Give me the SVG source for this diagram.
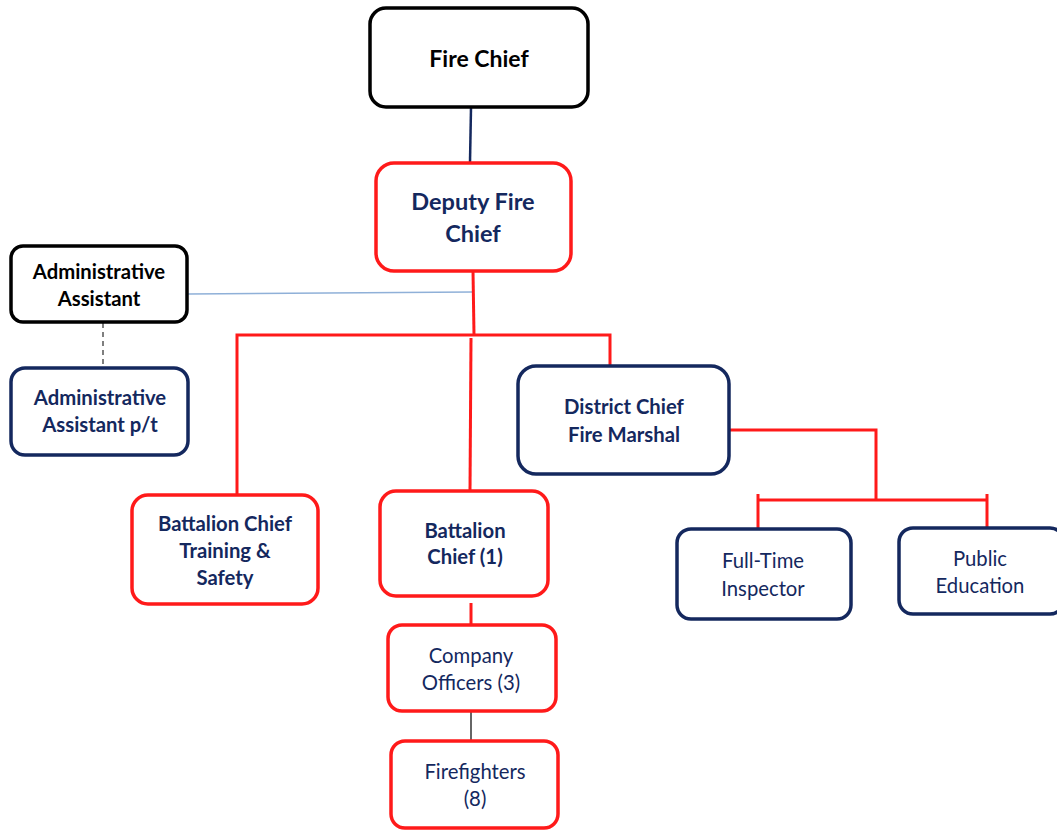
<svg xmlns="http://www.w3.org/2000/svg" width="1057" height="831" viewBox="0 0 1057 831">
<style>
  .box{fill:#fff;stroke-width:3.5}
  .red{stroke:#ff1a1a}
  .navy{stroke:#14285e}
  .blk{stroke:#000}
  text{font-family:Lato,"Open Sans","Liberation Sans",sans-serif;text-anchor:middle;font-size:20.3px}
  .b{font-weight:bold;font-size:20.3px}
  .tn{fill:#14285e}
  .tk{fill:#000}
  .rl{fill:none;stroke:#ff1a1a;stroke-width:3}
</style>
<rect width="1057" height="831" fill="#fff"/>
<g id="connectors">
  <line x1="471" y1="108" x2="470" y2="162" stroke="#14285e" stroke-width="2.5"/>
  <line x1="188" y1="294" x2="473" y2="292" stroke="#8fb0d8" stroke-width="1.5"/>
  <line x1="103" y1="323" x2="103" y2="367" stroke="#555" stroke-width="1.5" stroke-dasharray="5,4"/>
  <polyline class="rl" points="473,271 474,335"/>
  <polyline class="rl" points="237,495 237,335 610,335 610,366"/>
  <line class="rl" x1="471" y1="338" x2="470" y2="491"/>
  <polyline class="rl" points="729,430 876,430 876,500"/>
  <line class="rl" x1="758" y1="500" x2="987" y2="500"/>
  <line class="rl" x1="758" y1="494" x2="758" y2="529"/>
  <line class="rl" x1="987" y1="494" x2="987" y2="528"/>
  <line class="rl" x1="471" y1="603" x2="471" y2="625"/>
  <line x1="471" y1="712" x2="471" y2="741" stroke="#666" stroke-width="2"/>
</g>
<g id="fire-chief">
  <rect class="box blk" x="370" y="8" width="218" height="99" rx="16"/>
  <text class="b tk" x="479" y="67" style="font-size:23px">Fire Chief</text>
</g>
<g id="deputy-fire-chief">
  <rect class="box red" x="376" y="163" width="195" height="108" rx="18"/>
  <text class="b tn" x="473" y="210" style="font-size:23.5px">Deputy Fire</text>
  <text class="b tn" x="473" y="242" style="font-size:23.5px">Chief</text>
</g>
<g id="admin-assistant">
  <rect class="box blk" x="11" y="246" width="176" height="76" rx="12"/>
  <text class="b tk" x="99" y="279">Administrative</text>
  <text class="b tk" x="99" y="306">Assistant</text>
</g>
<g id="admin-assistant-pt">
  <rect class="box navy" x="11" y="368" width="177" height="87" rx="14"/>
  <text class="b tn" x="100" y="405">Administrative</text>
  <text class="b tn" x="100" y="432">Assistant p/t</text>
</g>
<g id="district-chief">
  <rect class="box navy" x="518" y="366" width="211" height="108" rx="18"/>
  <text class="b tn" x="624" y="414">District Chief</text>
  <text class="b tn" x="624" y="442">Fire Marshal</text>
</g>
<g id="full-time-inspector">
  <rect class="box navy" x="677" y="529" width="174" height="90" rx="14"/>
  <text class="tn" x="763" y="568">Full-Time</text>
  <text class="tn" x="763" y="596">Inspector</text>
</g>
<g id="public-education">
  <rect class="box navy" x="899" y="528" width="165" height="86" rx="14"/>
  <text class="tn" x="980" y="566">Public</text>
  <text class="tn" x="980" y="593">Education</text>
</g>
<g id="battalion-chief-training">
  <rect class="box red" x="132" y="495" width="186" height="109" rx="16"/>
  <text class="b tn" x="225" y="531">Battalion Chief</text>
  <text class="b tn" x="225" y="558">Training &amp;</text>
  <text class="b tn" x="225" y="585">Safety</text>
</g>
<g id="battalion-chief-1">
  <rect class="box red" x="380" y="491" width="168" height="105" rx="16"/>
  <text class="b tn" x="465" y="538">Battalion</text>
  <text class="b tn" x="465" y="564">Chief (1)</text>
</g>
<g id="company-officers">
  <rect class="box red" x="388" y="625" width="168" height="86" rx="14"/>
  <text class="tn" x="471" y="663">Company</text>
  <text class="tn" x="471" y="690">Officers (3)</text>
</g>
<g id="firefighters">
  <rect class="box red" x="391" y="741" width="167" height="87" rx="14"/>
  <text class="tn" x="475" y="779">Firefighters</text>
  <text class="tn" x="475" y="806">(8)</text>
</g>
</svg>
